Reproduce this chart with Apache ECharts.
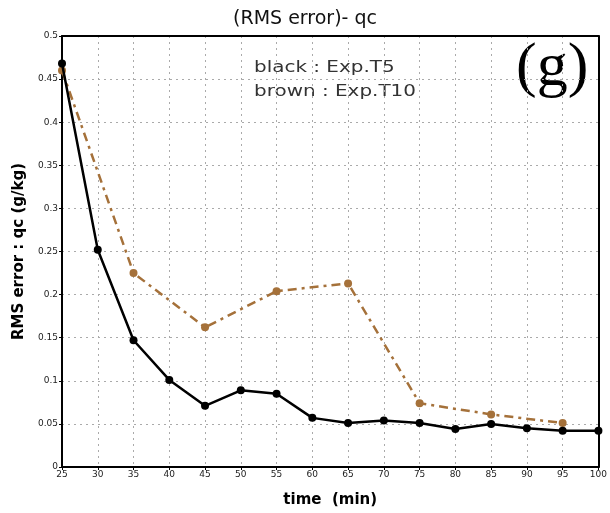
<!DOCTYPE html>
<html><head><meta charset="utf-8">
<script src="https://cdn.jsdelivr.net/npm/echarts@6/dist/echarts.min.js"></script>
<style>html,body{margin:0;padding:0;background:#fff}#c{width:610px;height:513px}</style>
</head><body><div id="c"></div>
<script>
const timesT5 = [25,30,35,40,45,50,55,60,65,70,75,80,85,90,95,100];
const rmsT5 = [0.468,0.252,0.147,0.101,0.071,0.089,0.085,0.057,0.051,0.054,0.051,0.044,0.050,0.045,0.042,0.042];
const timesT10 = [25,35,45,55,65,75,85,95];
const rmsT10 = [0.460,0.225,0.162,0.204,0.213,0.074,0.061,0.051];
const xTicks = [25,30,35,40,45,50,55,60,65,70,75,80,85,90,95,100];
const yTicks = [0,0.05,0.1,0.15,0.2,0.25,0.3,0.35,0.4,0.45,0.5];

const chart = echarts.init(document.getElementById('c'));
const pair = (xs, ys) => xs.map((x,i)=>[x, ys[i]]);
const frameAxis = {axisLine:{show:true, onZero:false, lineStyle:{color:'#000', width:2}}, axisTick:{show:false}, axisLabel:{show:false}, splitLine:{show:false}};
chart.setOption({
  animation:false,
  backgroundColor:'#fff',
  title:{text:'(RMS error)- qc', left:'center', top:5,
    textStyle:{fontFamily:'DejaVu Sans', fontWeight:'normal', fontSize:19, color:'#111'}},
  grid:{left:62, right:9, top:36, bottom:46, show:false},
  xAxis:[{type:'value', min:25, max:100, interval:5,
    name:'time  (min)', nameLocation:'middle', nameGap:26,
    nameTextStyle:{fontFamily:'DejaVu Sans', fontSize:15, color:'#000', fontWeight:'bold'},
    axisLine:{show:true, onZero:false, lineStyle:{color:'#000', width:2}},
    axisTick:{show:true, length:3, lineStyle:{color:'#000'}},
    axisLabel:{fontFamily:'DejaVu Sans', fontSize:9, color:'#222', margin:3,
      formatter:v=> xTicks.includes(v) ? String(v) : ''},
    splitLine:{show:true, showMinLine:false, showMaxLine:false, lineStyle:{color:'#aaa', type:[2,4], width:1}}},
    Object.assign({type:'value', min:25, max:100, position:'top'}, frameAxis)],
  yAxis:[{type:'value', min:0, max:0.5, interval:0.05,
    name:'RMS error : qc (g/kg)', nameLocation:'middle', nameGap:33,
    nameTextStyle:{fontFamily:'DejaVu Sans', fontSize:15, color:'#000', fontWeight:'bold'},
    axisLine:{show:true, onZero:false, lineStyle:{color:'#000', width:2}},
    axisTick:{show:true, length:3, lineStyle:{color:'#000'}},
    axisLabel:{fontFamily:'DejaVu Sans', fontSize:9, color:'#222', margin:4,
      formatter:v=>{const t=yTicks.find(y=>Math.abs(y-v)<1e-9); return t===undefined?'':String(+t.toFixed(2));}},
    splitLine:{show:true, showMinLine:false, showMaxLine:false, lineStyle:{color:'#aaa', type:[2,4], width:1}}},
    Object.assign({type:'value', min:0, max:0.5, position:'right'}, frameAxis)],
  graphic:[
    {type:'text', x:254, y:61, scaleX:1.33, style:{text:'black : Exp.T5', font:'15px "DejaVu Sans"', fill:'#333'}},
    {type:'text', x:254, y:85, scaleX:1.33, style:{text:'brown : Exp.T10', font:'15px "DejaVu Sans"', fill:'#333'}},
    {type:'text', x:516, y:38, style:{text:'(g)', font:'62px "Liberation Serif"', fill:'#000'}}
  ],
  series:[
    {type:'line', data:pair(timesT10, rmsT10), symbol:'circle', symbolSize:8,
      itemStyle:{color:'#a5713a'}, lineStyle:{color:'#a5713a', width:2.5, type:[9,5,3,5]}, z:2},
    {type:'line', data:pair(timesT5, rmsT5), symbol:'circle', symbolSize:8,
      itemStyle:{color:'#000'}, lineStyle:{color:'#000', width:2.5}, z:3}
  ]
});
</script></body></html>
